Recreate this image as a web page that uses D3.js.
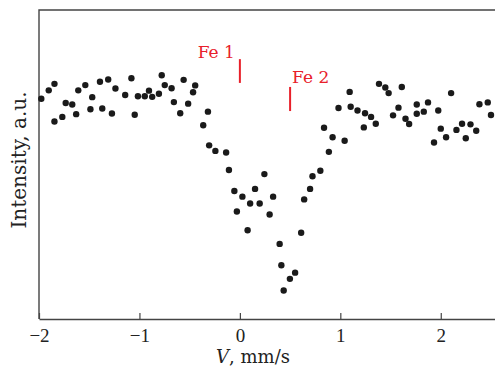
<!DOCTYPE html>
<html>
<head>
<meta charset="utf-8">
<script src="https://cdn.jsdelivr.net/npm/d3@7"></script>
<style>
  html, body { margin: 0; padding: 0; background: #fff; }
  svg { display: block; }
  .tick text { font-family: "Liberation Serif", serif; font-size: 19px; fill: #222; }
</style>
</head>
<body>
<svg id="chart" width="495" height="369"></svg>
<script>
// velocity (mm/s) and intensity (a.u.)
const velocity = [
  -1.977, -1.903, -1.846, -1.846, -1.768, -1.734, -1.669, -1.630, -1.609, -1.539,
  -1.488, -1.470, -1.393, -1.370, -1.311, -1.274, -1.239, -1.142, -1.080, -1.047,
  -1.015, -0.947, -0.905, -0.873, -0.806, -0.778, -0.748, -0.680, -0.657, -0.594,
  -0.560, -0.515, -0.466, -0.445, -0.365, -0.318, -0.306, -0.244, -0.137, -0.109,
  -0.055, -0.030, 0.025, 0.077, 0.102, 0.151, 0.197, 0.244, 0.296, 0.331,
  0.396, 0.413, 0.436, 0.498, 0.550, 0.610, 0.640, 0.699, 0.723, 0.801,
  0.838, 0.886, 0.923, 0.982, 1.043, 1.093, 1.103, 1.171, 1.234, 1.246,
  1.306, 1.353, 1.385, 1.448, 1.481, 1.525, 1.579, 1.612, 1.649, 1.685,
  1.761, 1.761, 1.831, 1.873, 1.933, 1.975, 2.000, 2.053, 2.103, 2.156,
  2.212, 2.249, 2.296, 2.353, 2.385, 2.468, 2.500
];
const intensity = [
  71.3, 74.0, 76.1, 63.9, 65.4, 69.9, 69.4, 66.3, 74.0, 75.7,
  67.9, 71.8, 76.8, 68.1, 77.5, 66.5, 74.6, 72.5, 77.9, 66.1,
  72.1, 72.1, 73.9, 71.9, 72.9, 78.9, 75.7, 74.7, 70.2, 66.6,
  77.4, 69.7, 73.4, 75.6, 62.7, 67.1, 56.2, 54.4, 53.9, 48.2,
  41.4, 34.8, 39.6, 28.7, 37.4, 42.1, 37.4, 46.9, 33.8, 39.6,
  24.3, 17.4, 9.2, 13.0, 15.0, 27.9, 38.7, 42.1, 46.2, 48.0,
  61.9, 54.1, 58.8, 68.3, 57.7, 73.5, 68.7, 67.5, 62.0, 66.6,
  65.4, 63.2, 76.1, 74.9, 73.1, 65.9, 68.4, 75.1, 64.8, 63.1,
  69.4, 66.4, 67.1, 70.1, 57.1, 67.5, 61.6, 58.8, 73.1, 61.2,
  63.2, 58.5, 63.0, 60.9, 69.5, 70.1, 66.0
];
const xTicks = [-2, -1, 0, 1, 2];

// iron site markers
const siteNames = ["Fe 1", "Fe 2"];
const sitePositions = [0, 0.5];
const siteTop = [84.1, 75.1];
const siteBottom = [76.4, 67.3];

const svg = d3.select("#chart");
const margin = {top: 10, left: 39, bottom: 50, right: 0};
const width = 495 - margin.left - margin.right;
const height = 369 - margin.top - margin.bottom;

const x = d3.scaleLinear().domain([-2, 2.54]).range([0, width]);
const y = d3.scaleLinear().domain([0, 100]).range([height, 0]);

const g = svg.append("g").attr("transform", `translate(${margin.left},${margin.top})`);

// frame: left and top
g.append("path")
  .attr("d", `M0,${height}V0H${width}`)
  .attr("fill", "none")
  .attr("stroke", "#444")
  .attr("stroke-width", 1.4);

const xAxis = g.append("g")
  .attr("transform", `translate(0,${height})`)
  .call(d3.axisBottom(x)
    .tickValues(xTicks)
    .tickFormat(d3.format("d"))
    .tickSizeInner(-6)
    .tickSizeOuter(0)
    .tickPadding(10));
xAxis.select(".domain").attr("stroke", "#444").attr("stroke-width", 1.4);
xAxis.selectAll(".tick line").attr("stroke", "#444").attr("stroke-width", 1.2);

g.selectAll("circle.pt")
  .data(velocity.map((v, i) => [v, intensity[i]]))
  .join("circle")
  .attr("class", "pt")
  .attr("cx", d => x(d[0]))
  .attr("cy", d => y(d[1]))
  .attr("r", 3.2)
  .attr("fill", "#1a1a1a");

const sites = g.selectAll("g.site")
  .data(siteNames.map((n, i) => ({name: n, v: sitePositions[i], top: siteTop[i], bottom: siteBottom[i]})))
  .join("g")
  .attr("class", "site");

sites.append("line")
  .attr("x1", d => x(d.v)).attr("x2", d => x(d.v))
  .attr("y1", d => y(d.top)).attr("y2", d => y(d.bottom))
  .attr("stroke", "#e8202a")
  .attr("stroke-width", 2);

sites.append("text")
  .attr("x", (d, i) => i === 0 ? x(d.v) - 5 : x(d.v) + 2)
  .attr("y", (d, i) => i === 0 ? y(d.top) - 1 : y(d.top) - 4)
  .attr("text-anchor", (d, i) => i === 0 ? "end" : "start")
  .attr("font-family", "DejaVu Serif, serif")
  .attr("font-size", 17)
  .attr("fill", "#e8202a")
  .text(d => d.name);

// axis titles
const xLabel = svg.append("text")
  .attr("x", 253)
  .attr("y", 363)
  .attr("text-anchor", "middle")
  .attr("font-family", "DejaVu Serif, serif")
  .attr("font-size", 18)
  .attr("fill", "#222");
xLabel.append("tspan").attr("font-style", "italic").text("V");
xLabel.append("tspan").text(", mm/s");

svg.append("text")
  .attr("transform", "translate(26,160) rotate(-90)")
  .attr("text-anchor", "middle")
  .attr("font-family", "DejaVu Serif, serif")
  .attr("font-size", 20)
  .attr("fill", "#222")
  .text("Intensity, a.u.");
</script>
</body>
</html>
